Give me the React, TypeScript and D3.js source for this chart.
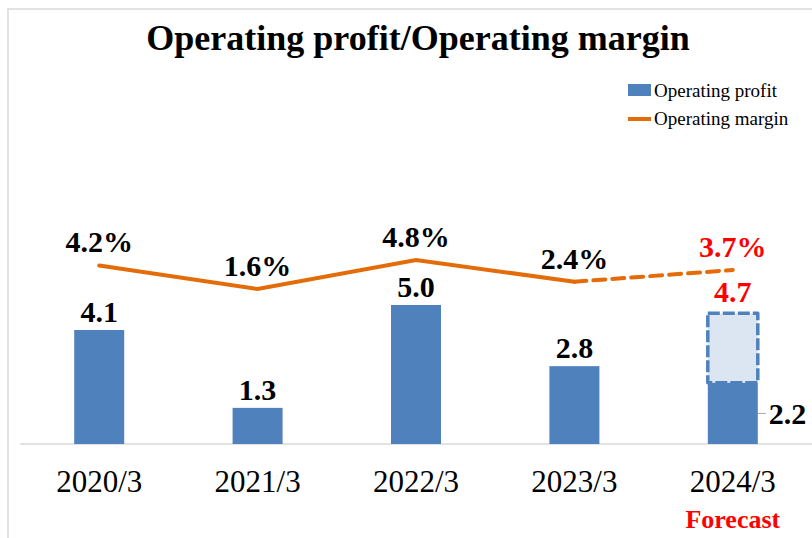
import * as d3 from "d3";

const categories = ["2020/3", "2021/3", "2022/3", "2023/3", "2024/3"];
const profit = [4.1, 1.3, 5.0, 2.8, 2.2];
const forecastProfit = 4.7;
const margin = [4.2, 1.6, 4.8, 2.4, 3.7];
const profitLabels = ["4.1", "1.3", "5.0", "2.8", "2.2"];
const marginLabels = ["4.2%", "1.6%", "4.8%", "2.4%", "3.7%"];

const W = 812;
const H = 538;
const FONT = "'Liberation Serif', 'Times New Roman', serif";
const BLUE = "#4f81bd";
const ORANGE = "#e36c09";
const GRID = "#d9d9d9";

export default function App() {
  const x = d3.scalePoint<string>().domain(categories).range([20, 812]).padding(0.5);
  const barW = 50;
  const y = d3.scaleLinear().domain([0, 6]).range([444, 277.2]);
  const y2 = d3.scaleLinear().domain([0, 10]).range([303.5, 212.9]);

  const pts = margin.map((m, i) => [x(categories[i])!, y2(m)] as [number, number]);
  const line = d3.line();
  const last = categories.length - 1;
  const lx = x(categories[last])!;

  return (
    <svg width={W} height={H} style={{ position: "absolute", left: 0, top: 0 }} fontFamily={FONT}>
      <rect width={W} height={H} fill="#fff" />
      <rect x={8} y={9} width={W} height={H} fill="none" stroke={GRID} strokeWidth={1.5} />

      <text x={418} y={50} textAnchor="middle" fontSize={36} fontWeight="bold">
        Operating profit/Operating margin
      </text>

      {/* legend */}
      <rect x={628} y={84} width={23} height={12} fill={BLUE} />
      <text x={654} y={97} fontSize={19}>Operating profit</text>
      <line x1={628} x2={651} y1={119} y2={119} stroke={ORANGE} strokeWidth={4} />
      <text x={654} y={125} fontSize={19}>Operating margin</text>

      <line x1={20} x2={W} y1={y(0)} y2={y(0)} stroke={GRID} strokeWidth={1.5} />

      {/* forecast box */}
      <rect
        x={lx - barW / 2}
        y={y(forecastProfit)}
        width={barW}
        height={y(profit[last]) - y(forecastProfit)}
        fill="#dce6f2"
        stroke={BLUE}
        strokeWidth={3.5}
        strokeDasharray="12,3"
        strokeLinejoin="round"
      />

      {profit.map((v, i) => (
        <rect
          key={categories[i]}
          x={x(categories[i])! - barW / 2}
          y={y(v)}
          width={barW}
          height={y(0) - y(v)}
          fill={BLUE}
        />
      ))}

      {profit.slice(0, last).map((v, i) => (
        <text
          key={categories[i]}
          x={x(categories[i])!}
          y={y(v) - 8}
          textAnchor="middle"
          fontSize={30}
          fontWeight="bold"
        >
          {profitLabels[i]}
        </text>
      ))}

      {/* actual 2024/3 label to the right of the bar */}
      <line
        x1={lx + barW / 2}
        x2={lx + barW / 2 + 8}
        y1={y(profit[last] / 2)}
        y2={y(profit[last] / 2)}
        stroke="#a6a6a6"
        strokeWidth={1}
      />
      <text x={lx + barW / 2 + 11} y={y(profit[last] / 2) + 11} fontSize={30} fontWeight="bold">
        {profitLabels[last]}
      </text>
      <text
        x={lx}
        y={y(forecastProfit) - 11}
        textAnchor="middle"
        fontSize={30}
        fontWeight="bold"
        fill="#ff0000"
      >
        {forecastProfit.toFixed(1)}
      </text>

      <path d={line(pts.slice(0, last))!} fill="none" stroke={ORANGE} strokeWidth={4} strokeLinecap="round" />
      <path
        d={line(pts.slice(last - 1))!}
        fill="none"
        stroke={ORANGE}
        strokeWidth={4}
        strokeDasharray="12,7"
        strokeLinecap="round"
      />

      {margin.map((m, i) => (
        <text
          key={categories[i]}
          x={x(categories[i])!}
          y={y2(m) - 13}
          textAnchor="middle"
          fontSize={30}
          fontWeight="bold"
          fill={i === last ? "#ff0000" : "#000"}
        >
          {marginLabels[i]}
        </text>
      ))}

      {categories.map((c) => (
        <text key={c} x={x(c)!} y={492} textAnchor="middle" fontSize={31}>
          {c}
        </text>
      ))}
      <text x={lx} y={528} textAnchor="middle" fontSize={26} fontWeight="bold" fill="#ff0000">
        Forecast
      </text>
    </svg>
  );
}
